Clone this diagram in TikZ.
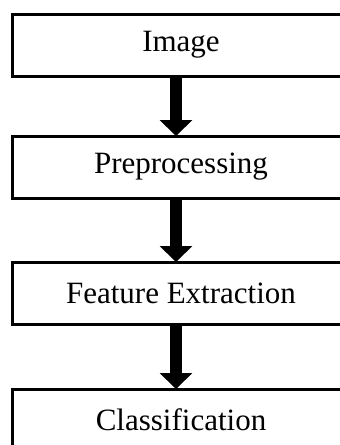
\documentclass[tikz,border=0pt]{standalone}
\usepackage{fontspec}
\setmainfont{Liberation Serif}
\usetikzlibrary{arrows.meta}
\begin{document}
\begin{tikzpicture}[x=1pt,y=1pt,
  stage/.style={draw=black, line width=3pt, minimum width=338pt, minimum height=62pt,
    inner sep=0pt, outer sep=0pt, font=\fontsize{31}{36}\selectfont},
  bigarrow/.style={line width=12pt, -{Triangle[width=32pt,length=16pt]}, shorten >=0pt}]
  \useasboundingbox (0,0) rectangle (340,-445);
  \clip (0,0) rectangle (340,-445);
  \node[stage] (b1) at (181,-45) {Image};
  \node[stage] (b2) at (181,-167) {Preprocessing};
  \node[stage] (b3) at (181,-293) {Feature Extraction};
  \node[stage] (b4) at (181,-420) {Classification};
  \draw[bigarrow] ([xshift=-5pt]b1.south) -- ([xshift=-5pt]b2.north);
  \draw[bigarrow] ([xshift=-5pt]b2.south) -- ([xshift=-5pt]b3.north);
  \draw[bigarrow] ([xshift=-5pt]b3.south) -- ([xshift=-5pt]b4.north);
\end{tikzpicture}
\end{document}
